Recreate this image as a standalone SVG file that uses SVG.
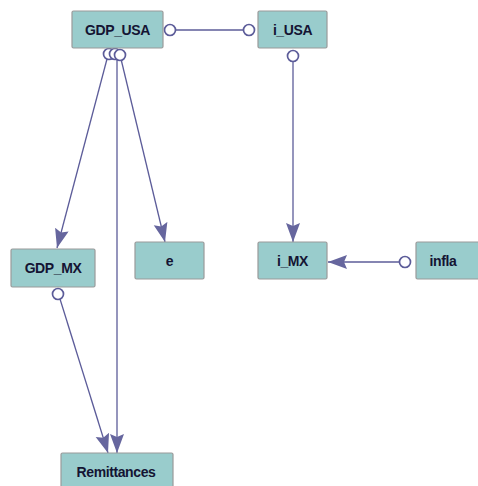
<svg xmlns="http://www.w3.org/2000/svg" width="478" height="486" viewBox="0 0 478 486">
<style>
.node rect{fill:#99cccc;stroke:#9a9a9a;stroke-width:1.2}
.node text{font-family:"Liberation Sans",Arial,sans-serif;font-weight:bold;font-size:14px;letter-spacing:-0.4px;fill:#141433;text-anchor:middle}
.edge{stroke:#5c5c99;stroke-width:1.3;fill:none}
.end{fill:#ffffff;stroke:#5c5c99;stroke-width:1.7}
</style>
<defs>
<marker id="arr" markerUnits="userSpaceOnUse" markerWidth="22" markerHeight="16" refX="19" refY="7" orient="auto">
<path d="M0,0 L19,7 L0,14 L3,7 z" fill="#66669e"/>
</marker>
</defs>
<rect width="478" height="486" fill="#ffffff"/>
<g id="connectors">
<line class="edge" x1="175" y1="30" x2="244" y2="30"/>
<circle class="end" cx="170" cy="30" r="5.5"/>
<circle class="end" cx="249" cy="30" r="5.5"/>
<line class="edge" x1="293" y1="61" x2="293" y2="242" marker-end="url(#arr)"/>
<circle class="end" cx="293" cy="56" r="5.5"/>
<line class="edge" x1="400" y1="262" x2="328" y2="262" marker-end="url(#arr)"/>
<circle class="end" cx="405" cy="262" r="5.5"/>
<line class="edge" x1="107" y1="59" x2="57" y2="248" marker-end="url(#arr)"/>
<line class="edge" x1="117" y1="59" x2="117" y2="453" marker-end="url(#arr)"/>
<line class="edge" x1="121" y1="59" x2="165" y2="242" marker-end="url(#arr)"/>
<circle class="end" cx="109" cy="54" r="5.5"/>
<circle class="end" cx="115" cy="54" r="5.5"/>
<circle class="end" cx="120" cy="55" r="5.5"/>
<line class="edge" x1="60" y1="299" x2="108" y2="453" marker-end="url(#arr)"/>
<circle class="end" cx="58" cy="294" r="5.5"/>
</g>
<g id="GDP_USA" class="node"><rect x="72" y="11" width="91" height="37" rx="1.5"/><text x="117.5" y="35">GDP_USA</text></g>
<g id="i_USA" class="node"><rect x="258" y="11" width="69" height="37" rx="1.5"/><text x="292.5" y="35">i_USA</text></g>
<g id="GDP_MX" class="node"><rect x="11" y="249" width="84" height="38" rx="1.5"/><text x="53" y="273">GDP_MX</text></g>
<g id="e" class="node"><rect x="135" y="242" width="69" height="37" rx="1.5"/><text x="169.5" y="266">e</text></g>
<g id="i_MX" class="node"><rect x="258" y="242" width="69" height="37" rx="1.5"/><text x="292.5" y="266">i_MX</text></g>
<g id="infla" class="node"><rect x="416" y="242" width="70" height="37" rx="1.5"/><text x="443" y="266">infla</text></g>
<g id="Remittances" class="node"><rect x="61" y="453" width="112" height="40" rx="1.5"/><text x="116" y="477">Remittances</text></g>
</svg>
